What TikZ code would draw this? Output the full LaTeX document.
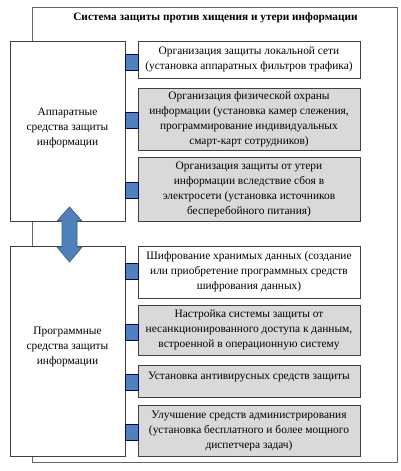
\documentclass[tikz,border=0pt]{standalone}
\usepackage{fontspec}
\setmainfont{Liberation Serif}
\begin{document}
\begin{tikzpicture}[x=1pt,y=-1pt,
  frame/.style={draw=gray!80!black,line width=0.7pt,fill=white},
  txt/.style={font=\fontsize{11.4}{15}\selectfont,align=center},
  leftbox/.style={draw=black!75,line width=0.8pt,fill=white,inner sep=0pt},
  rbox/.style={draw=black!75,line width=0.9pt,txt,inner sep=0pt,minimum width=222pt},
  wbox/.style={rbox,fill=white},
  gbox/.style={rbox,fill=black!15},
  sq/.style={draw=blue!40!black,fill={rgb,255:red,79;green,129;blue,189},line width=0.6pt,minimum width=13pt,minimum height=16pt,inner sep=0pt},
  darrow/.style={draw={rgb,255:red,56;green,93;blue,138},fill={rgb,255:red,79;green,129;blue,189},line width=0.7pt}
]
\useasboundingbox (0,0) rectangle (401,471);
\node[frame,minimum width=365pt,minimum height=455pt,inner sep=0pt] (outer) at (214.5,234.5) {};
\node[font=\fontsize{11.3}{13}\selectfont\bfseries] (title) at (215.5,18) {Система защиты против хищения и утери информации};

\node[leftbox,minimum width=115pt,minimum height=180pt] (hw) at (67.5,131) {};
\node[txt] (hwt) at (67.5,128) {Аппаратные\\средства защиты\\информации};
\node[leftbox,minimum width=115pt,minimum height=210pt] (sw) at (67.5,351) {};
\node[txt] (swt) at (67.5,347) {Программные\\средства защиты\\информации};

\node[wbox,minimum height=37pt] (r1) at (249,59.5) {Организация защиты локальной сети\\(установка аппаратных фильтров трафика)};
\node[gbox,minimum height=62pt] (r2) at (249,119) {Организация физической охраны\\информации (установка камер слежения,\\программирование индивидуальных\\смарт-карт сотрудников)};
\node[gbox,minimum height=64pt] (r3) at (249,189) {Организация защиты от утери\\информации вследствие сбоя в\\электросети (установка источников\\бесперебойного питания)};
\node[wbox,minimum height=52pt] (r4) at (249,272) {Шифрование хранимых данных (создание\\или приобретение программных средств\\шифрования данных)};
\node[gbox,minimum height=50pt] (r5) at (249,330) {Настройка системы защиты от\\несанкционированного доступа к данным,\\встроенной в операционную систему};
\node[gbox,minimum height=32pt] (r6) at (249,381) {};
\node[txt] (r6t) at (249,377) {Установка антивирусных средств защиты};
\node[gbox,minimum height=51pt] (r7) at (249,430.5) {Улучшение средств администрирования\\(установка бесплатного и более мощного\\диспетчера задач)};

\node[sq] (c1) at (131.5,62) {};
\node[sq] (c2) at (131.5,120) {};
\node[sq] (c3) at (131.5,190) {};
\node[sq] (c4) at (131.5,271) {};
\node[sq] (c5) at (131.5,332) {};
\node[sq] (c6) at (131.5,382) {};
\node[sq] (c7) at (131.5,432) {};

\coordinate (at) at (69.5,207);
\coordinate (ab) at (69.5,262);
\draw[darrow] (at) -- ++(12.5,14) -- ++(-5,0) -- ++(0,26) -- ++(5,0) -- (ab) -- ++(-12.5,-15) -- ++(5,0) -- ++(0,-26) -- ++(-5,0) -- cycle;
\end{tikzpicture}
\end{document}
